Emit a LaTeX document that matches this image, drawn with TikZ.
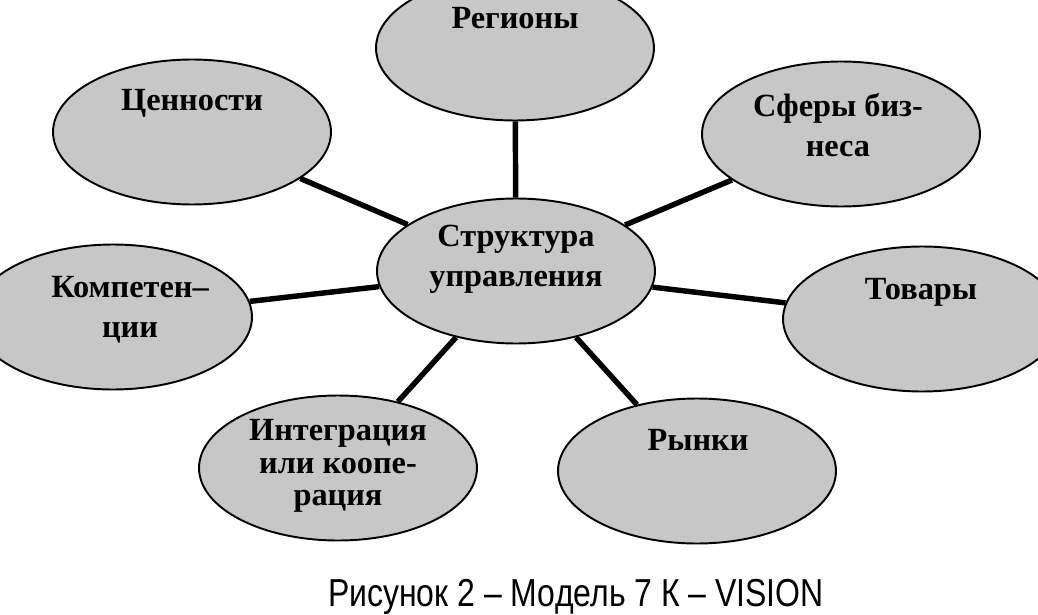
\documentclass[tikz,border=0pt]{standalone}
\usepackage{fontspec}
\setmainfont{Liberation Serif}
\newfontfamily\capfont{Liberation Sans}
\usetikzlibrary{shapes.geometric}

\begin{document}
\begin{tikzpicture}[x=0.02cm,y=-0.02cm,line width=3.1pt]
        \tikzstyle{blob}=[ellipse, draw, line width=1.1pt, fill=black!22,
          minimum width=5.56cm, minimum height=2.9cm]
        \tikzstyle{word}=[align=center, inner sep=0pt,
          font=\fontsize{18.4}{22.7}\selectfont\bfseries]

        \useasboundingbox (0,0) rectangle (1038,615);

        \node[blob] (core)  at (516,271) {};
        \node[blob] (reg)   at (515,48)  {};
        \node[blob] (val)   at (192,132) {};
        \node[blob] (biz)   at (841,134) {};
        \node[blob] (comp)  at (113,317) {};
        \node[blob] (goods) at (922,319) {};
        \node[blob] (integ) at (338,468) {};
        \node[blob] (mkt)   at (697,471) {};

        \draw (core) -- (reg);
        \draw (core) -- (val);
        \draw (core) -- (biz);
        \draw (core) -- (comp);
        \draw (core) -- (goods);
        \draw (core) -- (integ);
        \draw (core) -- (mkt);

        \node[word] (core-t)  at (516,259) {Структура\\управления};
        \node[word] (reg-t)   at (515,18)  {Регионы};
        \node[word] (val-t)   at (192,103) {Ценности};
        \node[word] (biz-t)   at (838,125) {Сферы биз-\\неса};
        \node[word] (comp-t)  at (130,310) {Компетен–\\ции};
        \node[word] (goods-t) at (921,292) {Товары};
        \node[word, font=\fontsize{18.4}{18.4}\selectfont\bfseries]
                   (integ-t) at (338,466) {Интеграция\\или коопе-\\рация};
        \node[word] (mkt-t)   at (698,440) {Рынки};

        \node[font=\capfont\fontsize{18.2}{20}\selectfont, yscale=1.22,
          inner sep=1pt] (cap) at (576,597) {Рисунок 2 – Модель 7 К – VISION};
    \end{tikzpicture}
\end{document}
